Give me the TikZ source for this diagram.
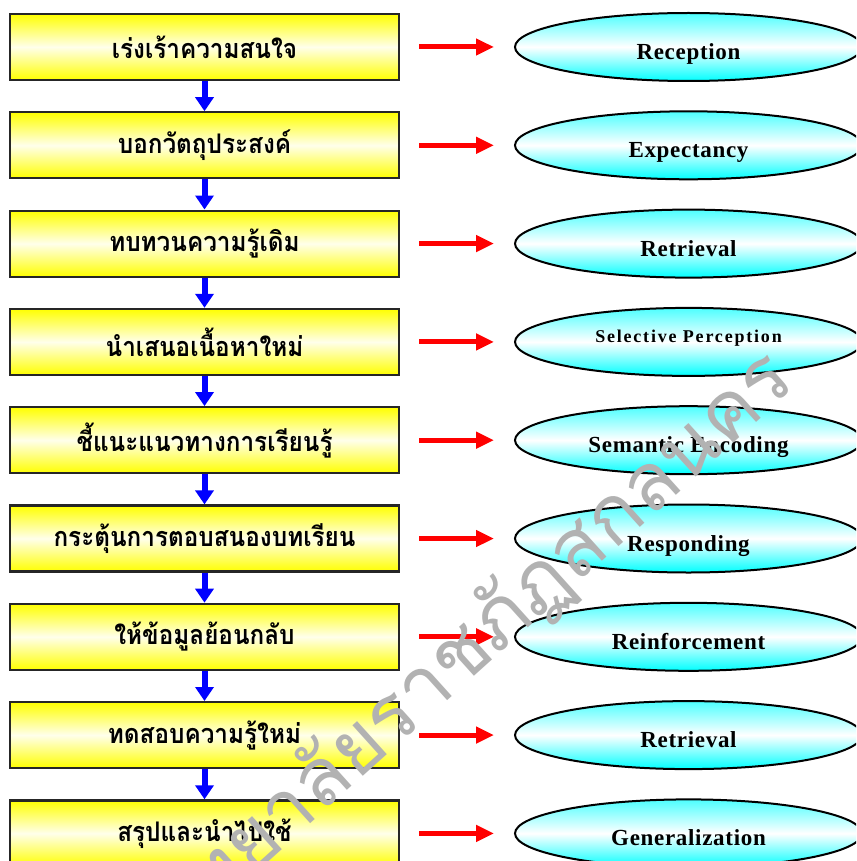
\documentclass[tikz,border=0pt]{standalone}
\usepackage{fontspec}
\setmainfont{Liberation Serif}
\newfontfamily\thaifont[Script=Thai,FakeStretch=0.9]{Loma}
\newfontfamily\wmfont[Script=Thai]{Loma}
\usetikzlibrary{arrows.meta,shapes.geometric}
\begin{document}
\begin{tikzpicture}[x=1pt,y=-1pt,
  stagebox/.style={draw=black!85, line width=2.2pt, minimum width=389pt, minimum height=66pt,
    top color=yellow, bottom color=yellow, middle color=yellow!8, inner sep=0pt,
    font=\thaifont\bfseries\fontsize{27}{27}\selectfont},
  outcome/.style={ellipse, draw=black, line width=2pt, minimum width=347pt, minimum height=68pt,
    top color=cyan!70, bottom color=cyan, middle color=white, inner sep=0pt,
    text height=25pt, text depth=0pt,
    font=\bfseries\fontsize{23}{23}\selectfont\addfontfeature{LetterSpace=3}},
  flow/.style={draw=blue, line width=6pt, -{Triangle[length=14pt,width=18pt]}},
  link/.style={draw=red, line width=5pt, -{Triangle[length=18pt,width=16pt]}, shorten <=19pt, shorten >=20pt},
  wmark/.style={text=black!30, font=\wmfont\fontsize{80}{80}\selectfont, rotate=42, inner sep=0pt}]
\useasboundingbox (0,0) rectangle (856,861);
\clip (0,0) rectangle (856,861);
\node[stagebox] (b1) at (204.5,47)    {เร่งเร้าความสนใจ};
\node[stagebox] (b2) at (204.5,145.3) {บอกวัตถุประสงค์};
\node[stagebox] (b3) at (204.5,243.6) {ทบทวนความรู้เดิม};
\node[stagebox] (b4) at (204.5,341.9) {นำเสนอเนื้อหาใหม่};
\node[stagebox] (b5) at (204.5,440.2) {ชี้แนะแนวทางการเรียนรู้};
\node[stagebox] (b6) at (204.5,538.5) {กระตุ้นการตอบสนองบทเรียน};
\node[stagebox] (b7) at (204.5,636.8) {ให้ข้อมูลย้อนกลับ};
\node[stagebox] (b8) at (204.5,735.1) {ทดสอบความรู้ใหม่};
\node[stagebox] (b9) at (204.5,833.4) {สรุปและนำไปใช้};
\node[outcome] (e1) at (688.5,47)    {Reception};
\node[outcome] (e2) at (688.5,145.3) {Expectancy};
\node[outcome] (e3) at (688.5,243.6) {Retrieval};
\node[outcome,text height=12pt,text depth=10pt,
  font=\bfseries\fontsize{18}{18}\selectfont\addfontfeature{LetterSpace=10}] (e4) at (688.5,341.9) {Selective Perception};
\node[outcome] (e5) at (688.5,440.2) {Semantic Encoding};
\node[outcome] (e6) at (688.5,538.5) {Responding};
\node[outcome] (e7) at (688.5,636.8) {Reinforcement};
\node[outcome] (e8) at (688.5,735.1) {Retrieval};
\node[outcome] (e9) at (688.5,833.4) {Generalization};
\foreach \a/\b in {b1/b2,b2/b3,b3/b4,b4/b5,b5/b6,b6/b7,b7/b8,b8/b9}
  \draw[flow] (\a.south) -- (\b.north);
\foreach \i in {1,...,9}
  \draw[link] (b\i.east) -- (e\i.west);
\node[wmark, anchor=base east] (wm) at (798,385) {มหาวิทยาลัยราชภัฏสกลนคร};
\end{tikzpicture}
\end{document}
